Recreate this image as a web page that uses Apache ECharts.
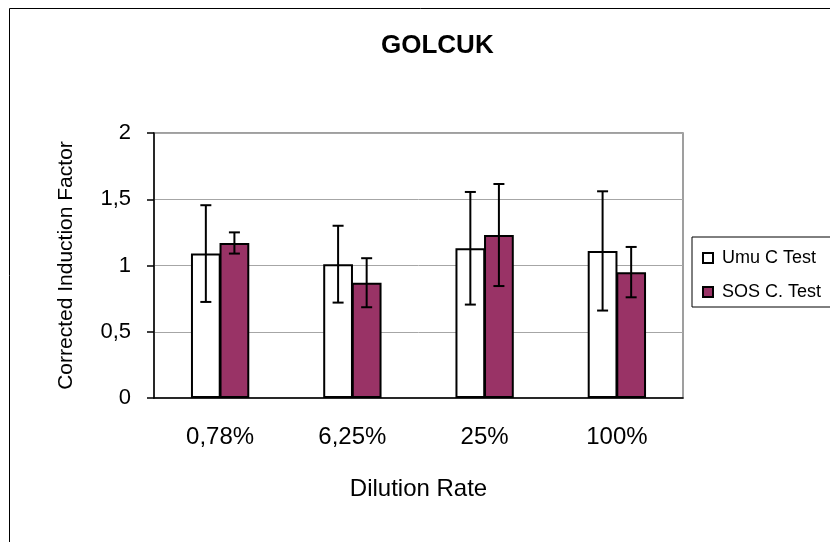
<!DOCTYPE html>
<html>
<head>
<meta charset="utf-8">
<script src="https://cdn.jsdelivr.net/npm/echarts@6/dist/echarts.min.js"></script>
<style>
  html, body { margin: 0; padding: 0; background: #fff; }
  #chart { width: 830px; height: 542px; }
</style>
</head>
<body>
<div id="chart"></div>
<script>
// Dilution rates on the x axis
const categories = ['0,78%', '6,25%', '25%', '100%'];
// Umu C test: mean corrected induction factor and its error
const umuValues = [1.09, 1.01, 1.13, 1.11];
const umuErrors = [0.365, 0.29, 0.425, 0.45];
// SOS chromotest: mean corrected induction factor and its error
const sosValues = [1.17, 0.87, 1.23, 0.95];
const sosErrors = [0.08, 0.185, 0.385, 0.19];
// Value axis ticks
const yTicks = [0, 0.5, 1, 1.5, 2];

const FONT = '"Liberation Sans", Arial, sans-serif';
const BAR_FRAC = 0.225;   // bar width as a share of the category band
const BAR_GAP = -0.04;    // overlap so neighbouring bars share an outline

function errorData(values, errors) {
  return values.map((v, i) => [i, v - errors[i], v + errors[i]]);
}

// Draws a vertical error bar with caps, shifted onto its bar within the group
function errorBarRenderer(side) {
  return function (params, api) {
    const idx = api.value(0);
    const lo = api.coord([idx, api.value(1)]);
    const hi = api.coord([idx, api.value(2)]);
    const band = api.size([1, 0])[0];
    const x = lo[0] + side * band * BAR_FRAC * (1 + BAR_GAP) / 2;
    const cap = 5.5;
    const style = { stroke: '#000', lineWidth: 2 };
    return {
      type: 'group',
      children: [
        { type: 'line', shape: { x1: x, y1: hi[1], x2: x, y2: lo[1] }, style },
        { type: 'line', shape: { x1: x - cap, y1: hi[1], x2: x + cap, y2: hi[1] }, style },
        { type: 'line', shape: { x1: x - cap, y1: lo[1], x2: x + cap, y2: lo[1] }, style }
      ]
    };
  };
}

const chart = echarts.init(document.getElementById('chart'));
chart.setOption({
  animation: false,
  backgroundColor: '#fff',
  textStyle: { fontFamily: FONT },
  graphic: [{
    type: 'rect',
    left: 7, top: 6,
    shape: { width: 900, height: 600 },
    style: { fill: 'none', stroke: '#000', lineWidth: 1 },
    silent: true, z: -10
  }],
  title: {
    text: 'GOLCUK',
    left: 376,
    top: 28,
    textStyle: { fontFamily: FONT, fontSize: 26, fontWeight: 'bold', color: '#000' }
  },
  legend: {
    orient: 'vertical',
    left: 692, top: 237,
    data: ['Umu C Test', 'SOS C. Test'],
    icon: 'rect',
    itemWidth: 10, itemHeight: 10,
    itemGap: 16,
    padding: [12, 60, 6, 10],
    borderColor: '#000', borderWidth: 1,
    backgroundColor: '#fff',
    formatter: name => '{t|' + name + '}',
    textStyle: {
      fontFamily: FONT, fontSize: 18, color: '#000',
      rich: { t: { fontFamily: FONT, fontSize: 18, color: '#000', padding: [0, 0, 0, 4] } }
    }
  },
  grid: {
    left: 154, right: 147, top: 133, bottom: 144,
    show: true, borderColor: '#808080', borderWidth: 1.5, backgroundColor: '#fff'
  },
  xAxis: {
    type: 'category',
    data: categories,
    name: 'Dilution Rate',
    nameLocation: 'middle',
    nameGap: 79,
    nameTextStyle: { fontFamily: FONT, fontSize: 24, color: '#000' },
    axisLine: { lineStyle: { color: '#000', width: 1.5 } },
    axisTick: { length: 7, lineStyle: { color: '#000', width: 1.5 } },
    axisLabel: { margin: 27, fontFamily: FONT, fontSize: 24, color: '#000' }
  },
  yAxis: {
    type: 'value',
    min: yTicks[0], max: yTicks[yTicks.length - 1], interval: yTicks[1] - yTicks[0],
    name: 'Corrected Induction Factor',
    nameLocation: 'middle',
    nameGap: 77,
    nameTextStyle: { fontFamily: FONT, fontSize: 21, color: '#000' },
    axisLine: { show: true, lineStyle: { color: '#000', width: 1.5 } },
    axisTick: { show: true, length: 7, lineStyle: { color: '#000', width: 1.5 } },
    axisLabel: {
      margin: 23, fontFamily: FONT, fontSize: 22, color: '#000',
      formatter: v => String(v).replace('.', ',')
    },
    splitLine: { lineStyle: { color: '#a6a6a6', width: 1 } }
  },
  series: [
    {
      name: 'Umu C Test', type: 'bar', data: umuValues,
      barWidth: (BAR_FRAC * 100) + '%', barGap: (BAR_GAP * 100) + '%',
      itemStyle: { color: '#ffffff', borderColor: '#000', borderWidth: 2 }
    },
    {
      name: 'SOS C. Test', type: 'bar', data: sosValues,
      barWidth: (BAR_FRAC * 100) + '%', barGap: (BAR_GAP * 100) + '%',
      itemStyle: { color: '#993366', borderColor: '#000', borderWidth: 2 }
    },
    {
      name: 'Umu C Test error', type: 'custom',
      renderItem: errorBarRenderer(-1),
      data: errorData(umuValues, umuErrors),
      encode: { x: 0, y: [1, 2] }, z: 5
    },
    {
      name: 'SOS C. Test error', type: 'custom',
      renderItem: errorBarRenderer(1),
      data: errorData(sosValues, sosErrors),
      encode: { x: 0, y: [1, 2] }, z: 5
    }
  ]
});
</script>
</body>
</html>
